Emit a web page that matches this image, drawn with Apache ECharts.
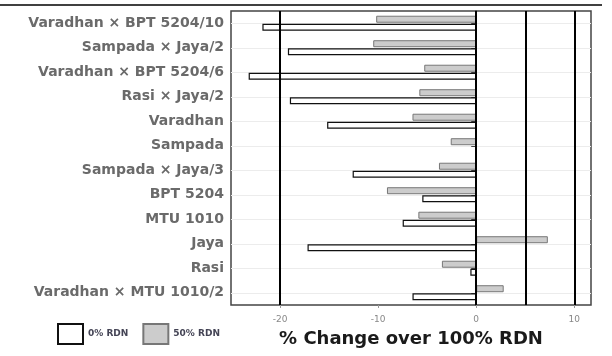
<!DOCTYPE html>
<html>
<head>
<meta charset="utf-8">
<script src="https://cdn.jsdelivr.net/npm/echarts@6/dist/echarts.min.js"></script>
<style>html,body{margin:0;padding:0;background:#fff}#c{width:612px;height:356px}</style>
</head>
<body>
<div id="c"></div>
<script>
const categories = ["Varadhan × BPT 5204/10", "Sampada × Jaya/2", "Varadhan × BPT 5204/6", "Rasi × Jaya/2", "Varadhan", "Sampada", "Sampada × Jaya/3", "BPT 5204", "MTU 1010", "Jaya", "Rasi", "Varadhan × MTU 1010/2"];
const rdn50 = [-10.2, -10.5, -5.3, -5.8, -6.5, -2.6, -3.8, -9.1, -5.9, 7.3, -3.5, 2.8];
const rdn0 = [-21.8, -19.2, -23.2, -19.0, -15.2, 0, -12.6, -5.5, -7.5, -17.2, -0.6, -6.5];
const xTicks = [-20, -10, 0, 10];
const refLines = [-20, 0, 5, 10];
const seriesNames = ["0% RDN", "50% RDN"];

const chart = echarts.init(document.getElementById('c'), null, {renderer: 'canvas'});
chart.setOption({
  animation: false,
  backgroundColor: '#fff',
  graphic: [{type: 'line', shape: {x1: 0, y1: 5, x2: 602, y2: 5}, style: {stroke: '#000', lineWidth: 1.5}}],
  grid: {left: 231, right: 21, top: 11, bottom: 51, show: true, borderColor: '#444', borderWidth: 1.5},
  legend: {
    data: seriesNames, left: 52, top: 318, icon: 'rect', itemWidth: 25, itemHeight: 20, itemGap: 14,
    textStyle: {fontFamily: 'DejaVu Sans', fontWeight: 'bold', fontSize: 9, color: '#445'}
  },
  xAxis: {
    type: 'value', min: -25, max: 11.7,
    name: '% Change over 100% RDN', nameLocation: 'middle', nameGap: 25,
    nameTextStyle: {fontFamily: 'DejaVu Sans', fontWeight: 'bold', fontSize: 18, color: '#1a1a1a'},
    axisLine: {show: false},
    axisTick: {show: true, customValues: xTicks, length: 3, lineStyle: {color: '#999'}},
    axisLabel: {customValues: xTicks, fontSize: 9, color: '#888', margin: 10, fontFamily: 'DejaVu Sans'},
    splitLine: {show: false}
  },
  yAxis: {
    type: 'category', data: categories, inverse: true,
    axisLine: {show: true, lineStyle: {color: '#333', width: 1.5}},
    axisTick: {show: true, alignWithLabel: true, length: 5, lineStyle: {color: '#444'}},
    axisLabel: {fontFamily: 'DejaVu Sans', fontWeight: 'bold', fontSize: 14, color: '#6a6a6a', margin: 7},
    splitLine: {show: true, alignWithLabel: true, lineStyle: {color: '#ececec'}}
  },
  series: [
    {
      name: '50% RDN', type: 'bar', data: rdn50, barWidth: 7, barGap: '15%',
      itemStyle: {color: '#cccccc', borderColor: '#777', borderWidth: 1},
      markLine: {
        silent: true, symbol: 'none', label: {show: false},
        lineStyle: {color: '#000', width: 2, type: 'solid'},
        data: refLines.map(v => ({xAxis: v}))
      }
    },
    {
      name: '0% RDN', type: 'bar', data: rdn0, barWidth: 7,
      itemStyle: {color: '#ffffff', borderColor: '#111', borderWidth: 1.2}
    }
  ]
});
</script>
</body>
</html>
